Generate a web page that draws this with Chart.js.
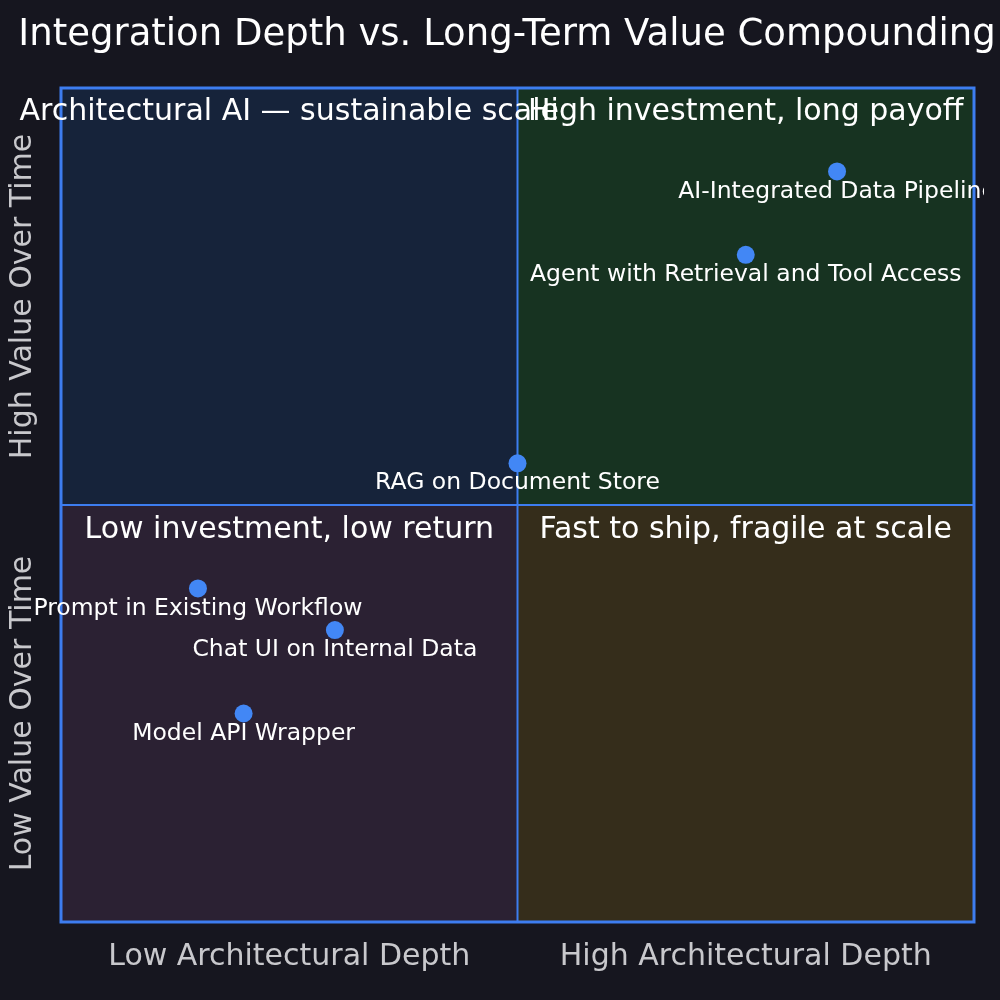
<!DOCTYPE html>
<html>
<head>
<meta charset="utf-8">
<script src="https://cdn.jsdelivr.net/npm/chart.js@4"></script>
<style>
  html, body { margin: 0; padding: 0; background: #16161f; }
  #wrap { width: 1000px; height: 1000px; }
</style>
</head>
<body>
<div id="wrap"><canvas id="quad"></canvas></div>
<script>
const names = ["AI-Integrated Data Pipeline", "Agent with Retrieval and Tool Access", "RAG on Document Store",
               "Prompt in Existing Workflow", "Chat UI on Internal Data", "Model API Wrapper"];
const depth = [0.85, 0.75, 0.50, 0.15, 0.30, 0.20];
const value = [0.90, 0.80, 0.55, 0.40, 0.35, 0.25];
const quadLabels = ["Architectural AI — sustainable scale", "High investment, long payoff",
                    "Low investment, low return", "Fast to ship, fragile at scale"];
const xLabels = ["Low Architectural Depth", "High Architectural Depth"];
const yLabels = ["Low Value Over Time", "High Value Over Time"];
const title = "Integration Depth vs. Long-Term Value Compounding";

const font = "'DejaVu Sans', sans-serif";
const blue = "#3d7df0";

const quadPlugin = {
    id: "quad",
    beforeDatasetsDraw(chart) {
        const c = chart.ctx, x = chart.scales.x, y = chart.scales.y;
        const x0 = x.getPixelForValue(0), x1 = x.getPixelForValue(0.5), x2 = x.getPixelForValue(1);
        const y0 = y.getPixelForValue(0), y1 = y.getPixelForValue(0.5), y2 = y.getPixelForValue(1);
        c.save();
        c.fillStyle = "#16233a"; c.fillRect(x0, y2, x1 - x0, y1 - y2);
        c.fillStyle = "#173321"; c.fillRect(x1, y2, x2 - x1, y1 - y2);
        c.fillStyle = "#2b2133"; c.fillRect(x0, y1, x1 - x0, y0 - y1);
        c.fillStyle = "#352d1b"; c.fillRect(x1, y1, x2 - x1, y0 - y1);
        c.strokeStyle = blue;
        c.lineWidth = 2;
        c.beginPath();
        c.moveTo(x1, y2); c.lineTo(x1, y0);
        c.moveTo(x0, y1); c.lineTo(x2, y1);
        c.stroke();
        c.lineWidth = 3;
        c.strokeRect(x0, y2, x2 - x0, y0 - y2);

        c.fillStyle = "#ffffff";
        c.font = "37px " + font;
        c.textAlign = "center";
        c.textBaseline = "middle";
        c.fillText(title, 507, 35);

        c.font = "30px " + font;
        const lx = (x0 + x1) / 2, rx = (x1 + x2) / 2;
        c.fillText(quadLabels[0], lx, y2 + 24);
        c.fillText(quadLabels[1], rx, y2 + 24);
        c.fillText(quadLabels[2], lx, y1 + 25);
        c.fillText(quadLabels[3], rx, y1 + 25);

        c.fillStyle = "#c8c8cc";
        c.font = "30px " + font;
        c.fillText(xLabels[0], lx, 957);
        c.fillText(xLabels[1], rx, 957);
        c.save();
        c.translate(23, (y1 + y0) / 2); c.rotate(-Math.PI / 2);
        c.fillText(yLabels[0], 0, 0);
        c.restore();
        c.save();
        c.translate(23, (y2 + y1) / 2); c.rotate(-Math.PI / 2);
        c.fillText(yLabels[1], 0, 0);
        c.restore();
        c.restore();
    },
    afterDatasetsDraw(chart) {
        const c = chart.ctx, x = chart.scales.x, y = chart.scales.y;
        c.save();
        c.beginPath(); c.rect(0, 0, 984, 1000); c.clip();
        c.fillStyle = "#ffffff";
        c.font = "23.5px " + font;
        c.textAlign = "center";
        c.textBaseline = "middle";
        names.forEach((n, i) => {
            c.fillText(n, x.getPixelForValue(depth[i]), y.getPixelForValue(value[i]) + 20);
        });
        c.restore();
    }
};

new Chart(document.getElementById("quad"), {
    type: "scatter",
    data: {
        datasets: [{
            data: depth.map((d, i) => ({ x: d, y: value[i] })),
            backgroundColor: "#4287f5",
            borderWidth: 0,
            pointRadius: 9
        }]
    },
    options: {
        responsive: true,
        maintainAspectRatio: false,
        animation: false,
        layout: { padding: { left: 61, right: 26, top: 88, bottom: 78 } },
        scales: {
            x: { display: false, min: 0, max: 1 },
            y: { display: false, min: 0, max: 1 }
        },
        plugins: { legend: { display: false }, tooltip: { enabled: false } }
    },
    plugins: [quadPlugin]
});
</script>
</body>
</html>
